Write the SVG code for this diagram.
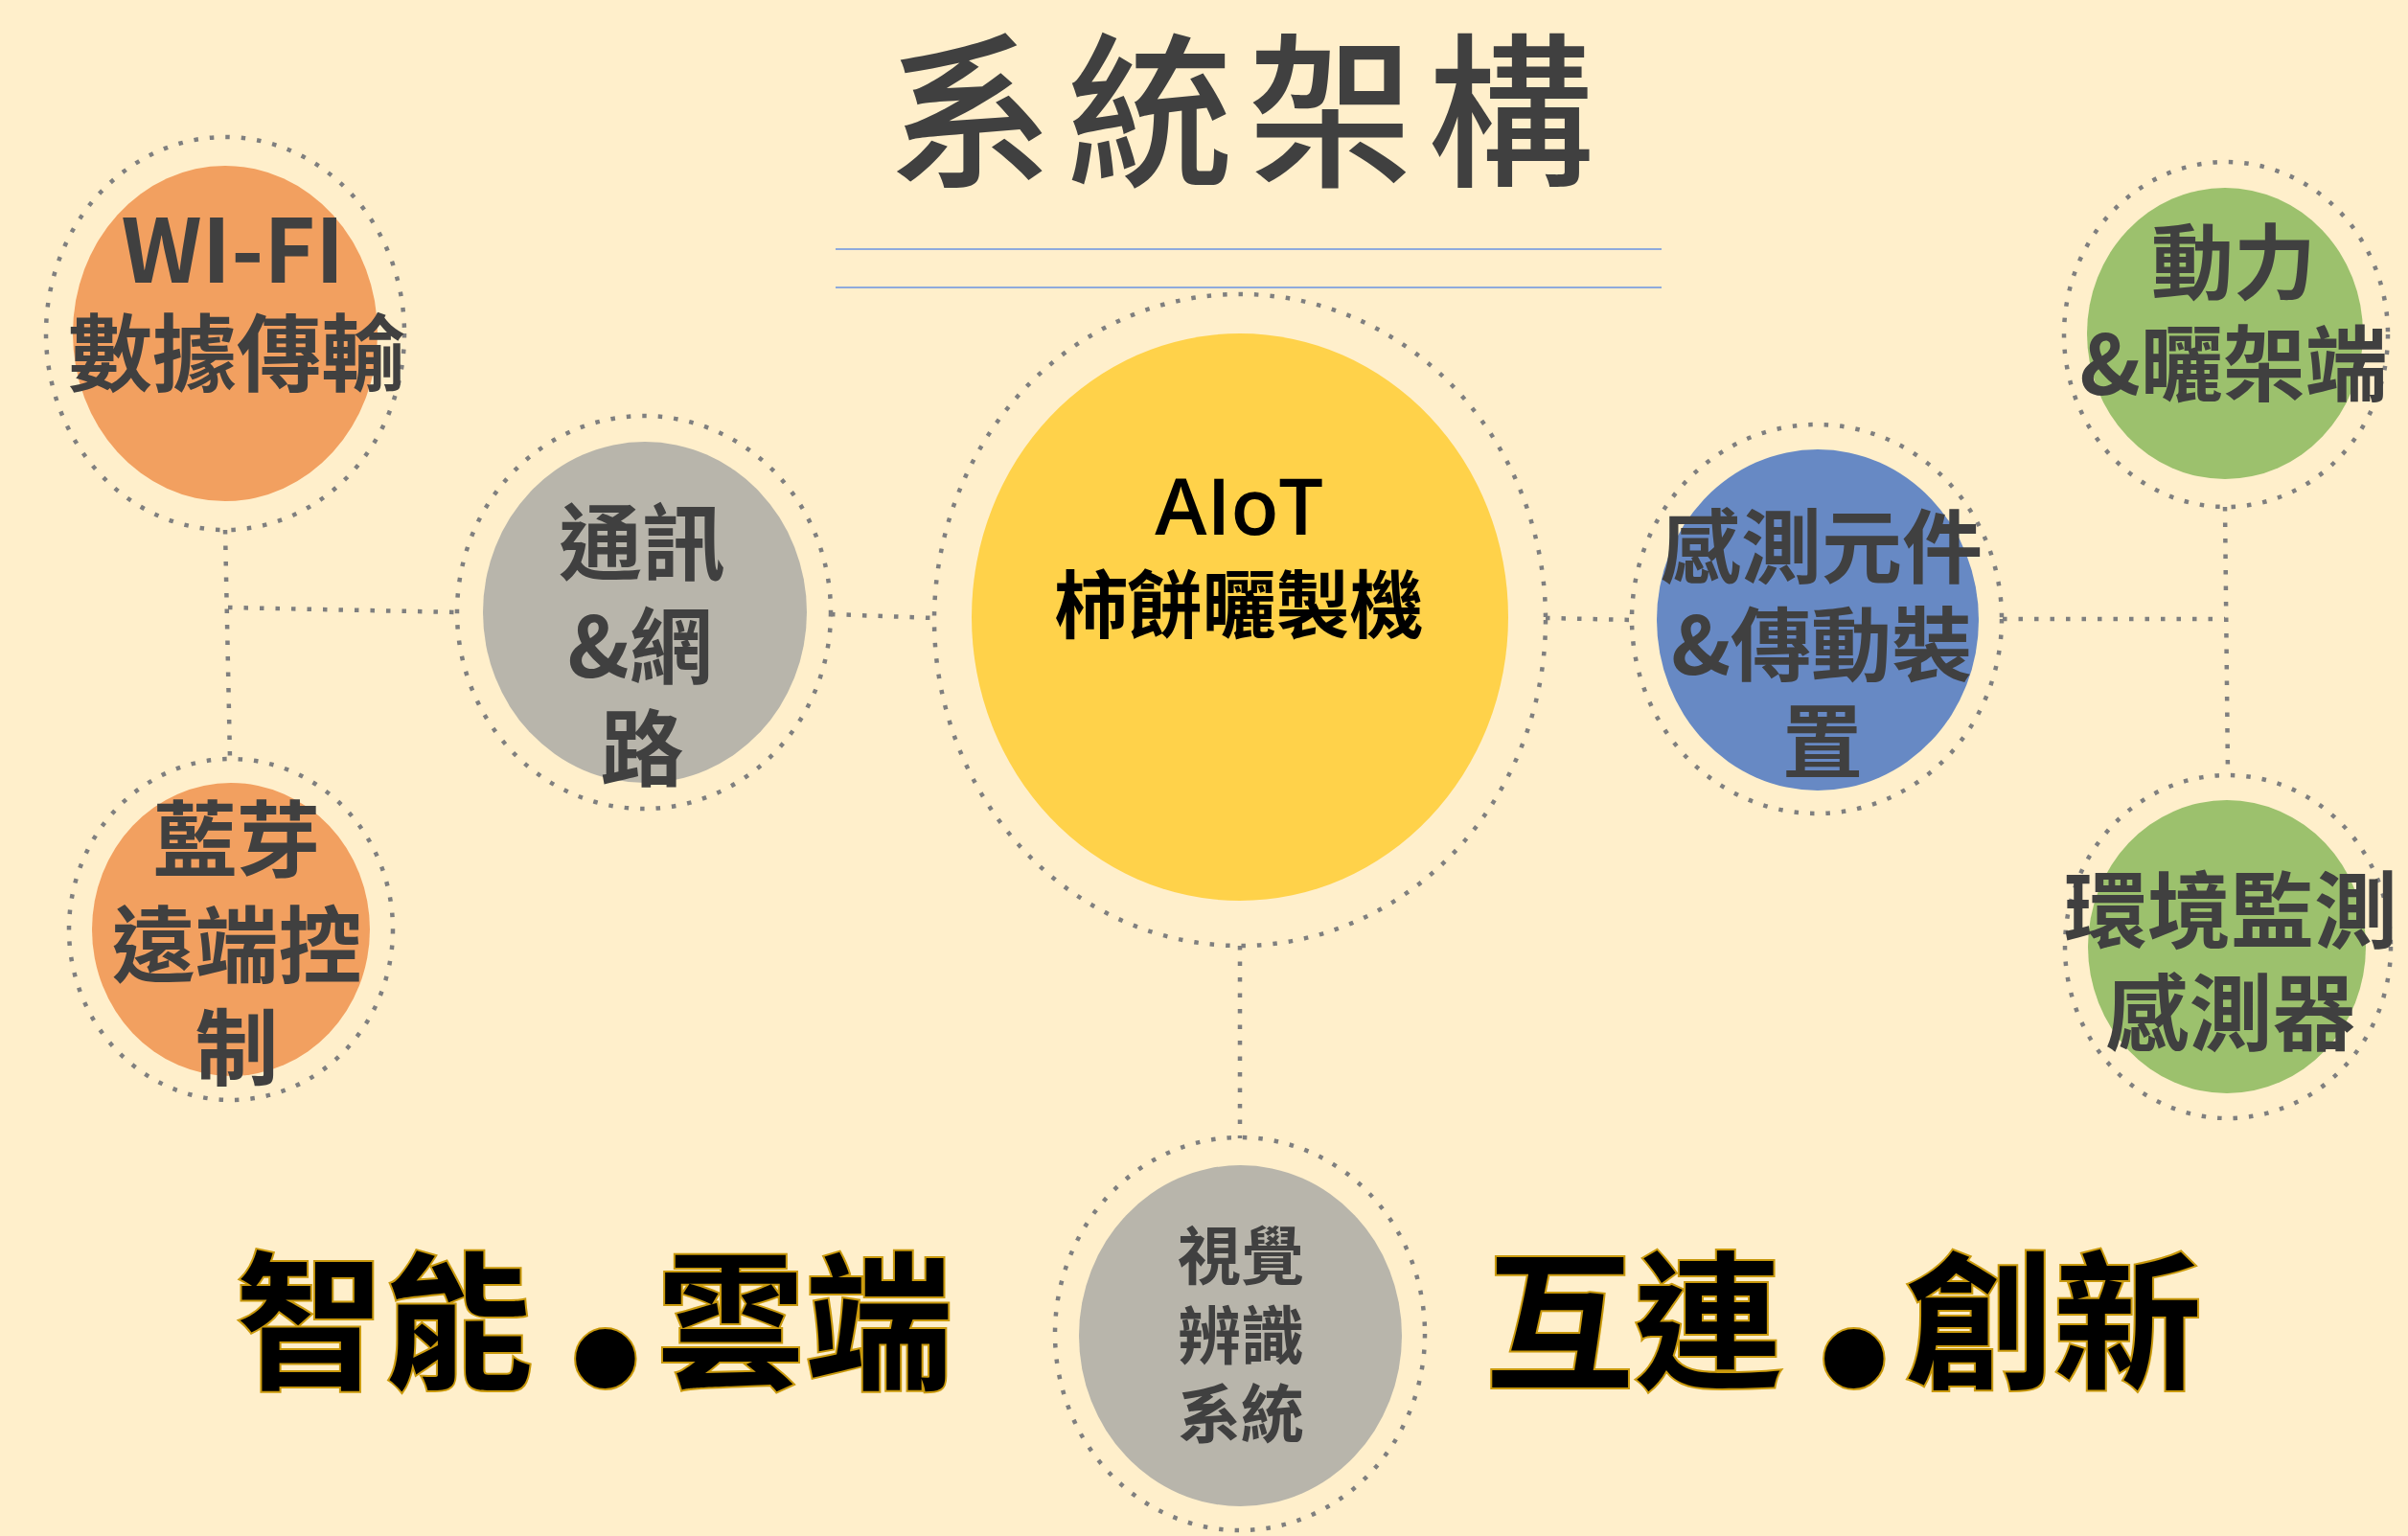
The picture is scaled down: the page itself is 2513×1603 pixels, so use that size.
<svg xmlns="http://www.w3.org/2000/svg" width="2513" height="1603" viewBox="0 0 2513 1603">
<style>
.bg{fill:#FFEFCB}
.ring{fill:none;stroke:#7F7F7F;stroke-width:4.5;stroke-dasharray:4.5 12}
.conn{fill:none;stroke:#7F7F7F;stroke-width:4.5;stroke-dasharray:4.5 12}
.rule{stroke:#8FAADC;stroke-width:2}
.t{font-family:"Noto Sans CJK TC","Noto Sans CJK SC",sans-serif;font-weight:700;fill:#404040;text-anchor:middle}
.title{font-family:"Noto Sans CJK TC","Noto Sans CJK SC",sans-serif;font-weight:500;fill:#404040;font-size:173px;letter-spacing:15px;text-anchor:middle}
.big{font-family:"Noto Sans CJK TC","Noto Sans CJK SC",sans-serif;font-weight:700;fill:#000;stroke:#C9990C;stroke-width:4;paint-order:stroke;font-size:155px;text-anchor:middle}
.dot{font-family:"Liberation Sans",sans-serif;font-size:215px}
.orange{fill:#F2A060}
.gray{fill:#B8B5AB}
.yellow{fill:#FFD24A}
.blue{fill:#6789C4}
.green{fill:#9CC16D}
</style>
<rect class="bg" x="0" y="0" width="2513" height="1603"/>
<g id="title">
<text class="title" x="1302" y="181">系統架構</text>
<line class="rule" x1="872" y1="260" x2="1734" y2="260"/>
<line class="rule" x1="872" y1="300" x2="1734" y2="300"/>
</g>
<g id="connectors">
<line class="conn" x1="235" y1="553" x2="240" y2="792"/>
<line class="conn" x1="238" y1="634" x2="478" y2="639"/>
<line class="conn" x1="867" y1="641" x2="975" y2="645"/>
<line class="conn" x1="1613" y1="645" x2="1703" y2="647"/>
<line class="conn" x1="2090" y1="646" x2="2322" y2="646"/>
<line class="conn" x1="2322" y1="529" x2="2325" y2="809"/>
<line class="conn" x1="1294" y1="987" x2="1294" y2="1188"/>
</g>
<g id="node-wifi">
<ellipse class="ring" cx="235" cy="348" rx="187" ry="205"/>
<ellipse class="orange" cx="235" cy="348" rx="159" ry="175"/>
<text class="t" x="243" y="295" font-size="92">WI-FI</text>
<text class="t" x="247" y="401" font-size="88">數據傳輸</text>
</g>
<g id="node-bluetooth">
<ellipse class="ring" cx="241" cy="970" rx="169" ry="178"/>
<ellipse class="orange" cx="241" cy="970" rx="145" ry="153"/>
<text class="t" x="247" y="909" font-size="87">藍芽</text>
<text class="t" x="247" y="1019" font-size="87">遠端控</text>
<text class="t" x="247" y="1126" font-size="87">制</text>
</g>
<g id="node-network">
<ellipse class="ring" cx="672" cy="639" rx="195" ry="205"/>
<ellipse class="gray" cx="673" cy="639" rx="169" ry="178"/>
<text class="t" x="670" y="599" font-size="87">通訊</text>
<text class="t" x="668" y="707" font-size="87">&amp;網</text>
<text class="t" x="670" y="814" font-size="87">路</text>
</g>
<g id="node-aiot">
<ellipse class="ring" cx="1294" cy="647" rx="319" ry="340"/>
<ellipse class="yellow" cx="1294" cy="644" rx="280" ry="296"/>
<text x="1293" y="558" font-family="'Open Sans','Noto Sans',sans-serif" font-weight="600" font-size="82" fill="#000" text-anchor="middle">AIoT</text>
<text class="t" x="1293" y="660" font-size="77" style="fill:#000">柿餅曬製機</text>
</g>
<g id="node-sensor">
<ellipse class="ring" cx="1896" cy="646" rx="193" ry="203"/>
<ellipse class="blue" cx="1897" cy="647" rx="168" ry="178"/>
<text class="t" x="1901" y="602" font-size="84">感測元件</text>
<text class="t" x="1901" y="704" font-size="84">&amp;傳動裝</text>
<text class="t" x="1902" y="805" font-size="84">置</text>
</g>
<g id="node-power">
<ellipse class="ring" cx="2323" cy="349" rx="169" ry="180"/>
<ellipse class="green" cx="2322" cy="348" rx="144" ry="152"/>
<text class="t" x="2331" y="306" font-size="86">動力</text>
<text class="t" x="2331" y="412" font-size="86">&amp;曬架端</text>
</g>
<g id="node-env">
<ellipse class="ring" cx="2325" cy="988" rx="170" ry="179"/>
<ellipse class="green" cx="2324" cy="988" rx="145" ry="153"/>
<text class="t" x="2328" y="983" font-size="87">環境監測</text>
<text class="t" x="2328" y="1090" font-size="87">感測器</text>
</g>
<g id="node-vision">
<ellipse class="ring" cx="1294" cy="1392" rx="193" ry="205"/>
<ellipse class="gray" cx="1294.5" cy="1394" rx="168.5" ry="178"/>
<text class="t" x="1295" y="1335" font-size="66">視覺</text>
<text class="t" x="1295" y="1418" font-size="66">辨識</text>
<text class="t" x="1295" y="1500" font-size="66">系統</text>
</g>
<g id="slogans">
<text class="big" y="1437"><tspan x="401">智能</tspan><tspan class="dot" x="632" dy="52">•</tspan><tspan x="840" dy="-52">雲端</tspan></text>
<text class="big" y="1437"><tspan x="1705">互連</tspan><tspan class="dot" x="1935" dy="52">•</tspan><tspan x="2143" dy="-52">創新</tspan></text>
</g>
</svg>
